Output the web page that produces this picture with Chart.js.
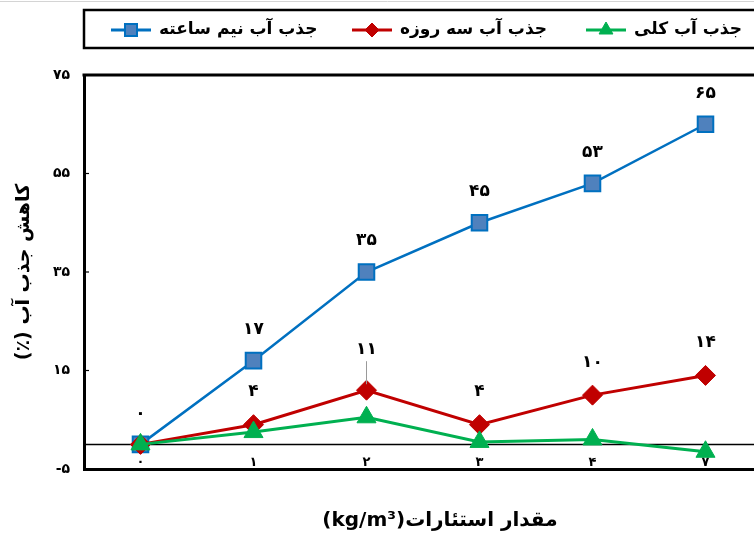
<!DOCTYPE html>
<html lang="fa">
<head>
<meta charset="utf-8">
<title>کاهش جذب آب</title>
<script src="https://cdn.jsdelivr.net/npm/chart.js@4.4.1/dist/chart.umd.min.js"></script>
<style>
  html, body { margin: 0; padding: 0; background: #fff; overflow: hidden; }
  #wrap { width: 775px; height: 535px; }
</style>
</head>
<body>
<div id="wrap"><canvas id="c" width="775" height="535"></canvas></div>
<script>
// Stearate dosage (kg/m3) on the category axis
const doses = [0, 1, 2, 3, 4, 7];
// Reduction of water absorption (%)
const halfHour = [0, 17, 35, 45, 53, 65];
const threeDay = [0, 4, 11, 4, 10, 14];
const total = [0, 2.5, 5.5, 0.5, 1, -1.5];
const yTicks = [-5, 15, 35, 55, 75];

const seriesNames = ['جذب آب نیم ساعته', 'جذب آب سه روزه', 'جذب آب کلی'];
const xTitle = 'مقدار استئارات(kg/m³)';
const yTitle = 'کاهش جذب آب (٪)';

// which points of each series carry a value label
const halfHourLabelled = [0, 1, 2, 3, 4, 5];
const threeDayLabelled = [1, 2, 3, 4, 5];
const totalLabelled = [];

const FAMILY = '"DejaVu Sans", sans-serif';
const RLE = '\u202B', PDF = '\u202C';
const fa = v => String(v).replace(/\d/g, d => '۰۱۲۳۴۵۶۷۸۹'[d]);

const styles = [
  { line: '#0070C0', fill: '#4F81BD', shape: 'rect', r: 11, lr: 8.5, bw: 2, lw: 2.5 },
  { line: '#C00000', fill: '#C00000', shape: 'rectRot', r: 10, lr: 7, bw: 1, lw: 3 },
  { line: '#00B050', fill: '#00B050', shape: 'triangle', r: 11, lr: 8, bw: 1, lw: 3 }
];
const labelled = [halfHourLabelled, threeDayLabelled, totalLabelled];

function makeSet(i, values, order) {
  const s = styles[i];
  return {
    label: seriesNames[i],
    data: values,
    borderColor: s.line,
    backgroundColor: s.fill,
    borderWidth: s.lw,
    pointStyle: s.shape,
    pointRadius: s.r,
    pointHoverRadius: s.r,
    pointBorderWidth: s.bw,
    pointBorderColor: s.line,
    pointBackgroundColor: s.fill,
    tension: 0,
    order: order
  };
}

const decor = {
  id: 'decor',
  beforeDatasetsDraw(chart) {
    const { ctx, chartArea: a, scales: { x, y } } = chart;
    ctx.save();
    // zero reference line
    const y0 = y.getPixelForValue(0);
    ctx.strokeStyle = '#000';
    ctx.lineWidth = 1.5;
    ctx.beginPath();
    ctx.moveTo(a.left, y0);
    ctx.lineTo(a.right, y0);
    ctx.stroke();
    // short inner tick marks on the value axis
    ctx.lineWidth = 1.2;
    yTicks.slice(1, -1).forEach(v => {
      const py = y.getPixelForValue(v);
      ctx.beginPath();
      ctx.moveTo(a.left, py);
      ctx.lineTo(a.left + 5, py);
      ctx.stroke();
    });
    // category labels sit just above the bottom edge, inside the frame
    ctx.font = 'bold 13px ' + FAMILY;
    ctx.fillStyle = '#000';
    ctx.textAlign = 'center';
    ctx.textBaseline = 'alphabetic';
    chart.data.labels.forEach((lab, i) => {
      ctx.fillText(lab, x.getPixelForTick(i), a.bottom - 3);
    });
    ctx.restore();
  },
  afterDatasetsDraw(chart) {
    const { ctx } = chart;
    ctx.save();
    ctx.font = 'bold 17px ' + FAMILY;
    ctx.fillStyle = '#000';
    ctx.textAlign = 'center';
    ctx.textBaseline = 'middle';
    chart.data.datasets.forEach((ds, i) => {
      const pts = chart.getDatasetMeta(i).data;
      labelled[i].forEach(j => {
        const p = pts[j];
        const v = ds.data[j];
        const isPeak = (i === 1 && j === 2);
        const off = isPeak ? 41 : (i === 0 ? 31 : 33);
        if (isPeak) {
          ctx.strokeStyle = '#9a9a9a';
          ctx.lineWidth = 1;
          ctx.beginPath();
          ctx.moveTo(p.x, p.y - off + 12);
          ctx.lineTo(p.x, p.y - 6);
          ctx.stroke();
        }
        ctx.fillText(fa(v), p.x, p.y - off);
      });
    });
    ctx.restore();
  },
  afterDraw(chart) {
    const { ctx, chartArea: a } = chart;
    ctx.save();
    // top edge of the plot frame
    ctx.strokeStyle = '#000';
    ctx.lineWidth = 3;
    ctx.beginPath();
    ctx.moveTo(a.left - 1.5, a.top);
    ctx.lineTo(chart.width, a.top);
    ctx.stroke();

    // faint line at the very top
    ctx.strokeStyle = '#d4d4d4';
    ctx.lineWidth = 1;
    ctx.beginPath();
    ctx.moveTo(0, 1.5);
    ctx.lineTo(chart.width, 1.5);
    ctx.stroke();

    // legend frame
    ctx.strokeStyle = '#000';
    ctx.lineWidth = 2.5;
    ctx.strokeRect(a.left, 10, chart.width, 38);

    // legend entries: line + marker, then name
    const centers = [131, 372, 606];
    ctx.font = 'bold 17px ' + FAMILY;
    ctx.textBaseline = 'middle';
    ctx.textAlign = 'left';
    styles.forEach((s, i) => {
      const cx = centers[i], cy = 30;
      ctx.strokeStyle = s.line;
      ctx.lineWidth = 3;
      ctx.beginPath();
      ctx.moveTo(cx - 20, cy);
      ctx.lineTo(cx + 20, cy);
      ctx.stroke();
      ctx.fillStyle = s.fill;
      ctx.strokeStyle = s.line;
      ctx.lineWidth = s.bw;
      Chart.helpers.drawPoint(ctx, { pointStyle: s.shape, radius: s.lr, borderWidth: s.bw, rotation: 0 }, cx, cy);
      ctx.fillStyle = '#000';
      ctx.fillText(seriesNames[i], cx + 28, cy);
    });

    // category axis title
    ctx.font = 'bold 20px ' + FAMILY;
    ctx.textAlign = 'center';
    ctx.fillStyle = '#000';
    ctx.fillText(RLE + xTitle + PDF, 440, 521);
    ctx.restore();
  }
};

new Chart(document.getElementById('c'), {
  type: 'line',
  data: {
    labels: doses.map(fa),
    datasets: [
      makeSet(0, halfHour, 2),
      makeSet(1, threeDay, 1),
      makeSet(2, total, 0)
    ]
  },
  options: {
    responsive: false,
    animation: false,
    devicePixelRatio: 1,
    layout: { padding: { top: 75, right: 11, left: 0, bottom: 0 } },
    plugins: { legend: { display: false }, tooltip: { enabled: false } },
    scales: {
      x: {
        offset: true,
        grid: { display: false, drawTicks: false },
        border: { display: true, width: 3, color: '#000' },
        ticks: { display: false },
        afterFit: s => { s.height = 66; }
      },
      y: {
        min: -5,
        max: 75,
        afterBuildTicks: s => { s.ticks = yTicks.map(v => ({ value: v })); },
        grid: { display: false, drawTicks: false },
        border: { display: true, width: 3, color: '#000' },
        ticks: { color: '#000', padding: 14, callback: v => fa(v), font: { family: FAMILY, weight: 'bold', size: 14 } },
        title: { display: true, text: RLE + yTitle + PDF, color: '#000', padding: { top: 13, bottom: 0 }, font: { family: FAMILY, weight: 'bold', size: 19 } },
        afterFit: s => { s.width = 84; }
      }
    }
  },
  plugins: [decor]
});
</script>
</body>
</html>
